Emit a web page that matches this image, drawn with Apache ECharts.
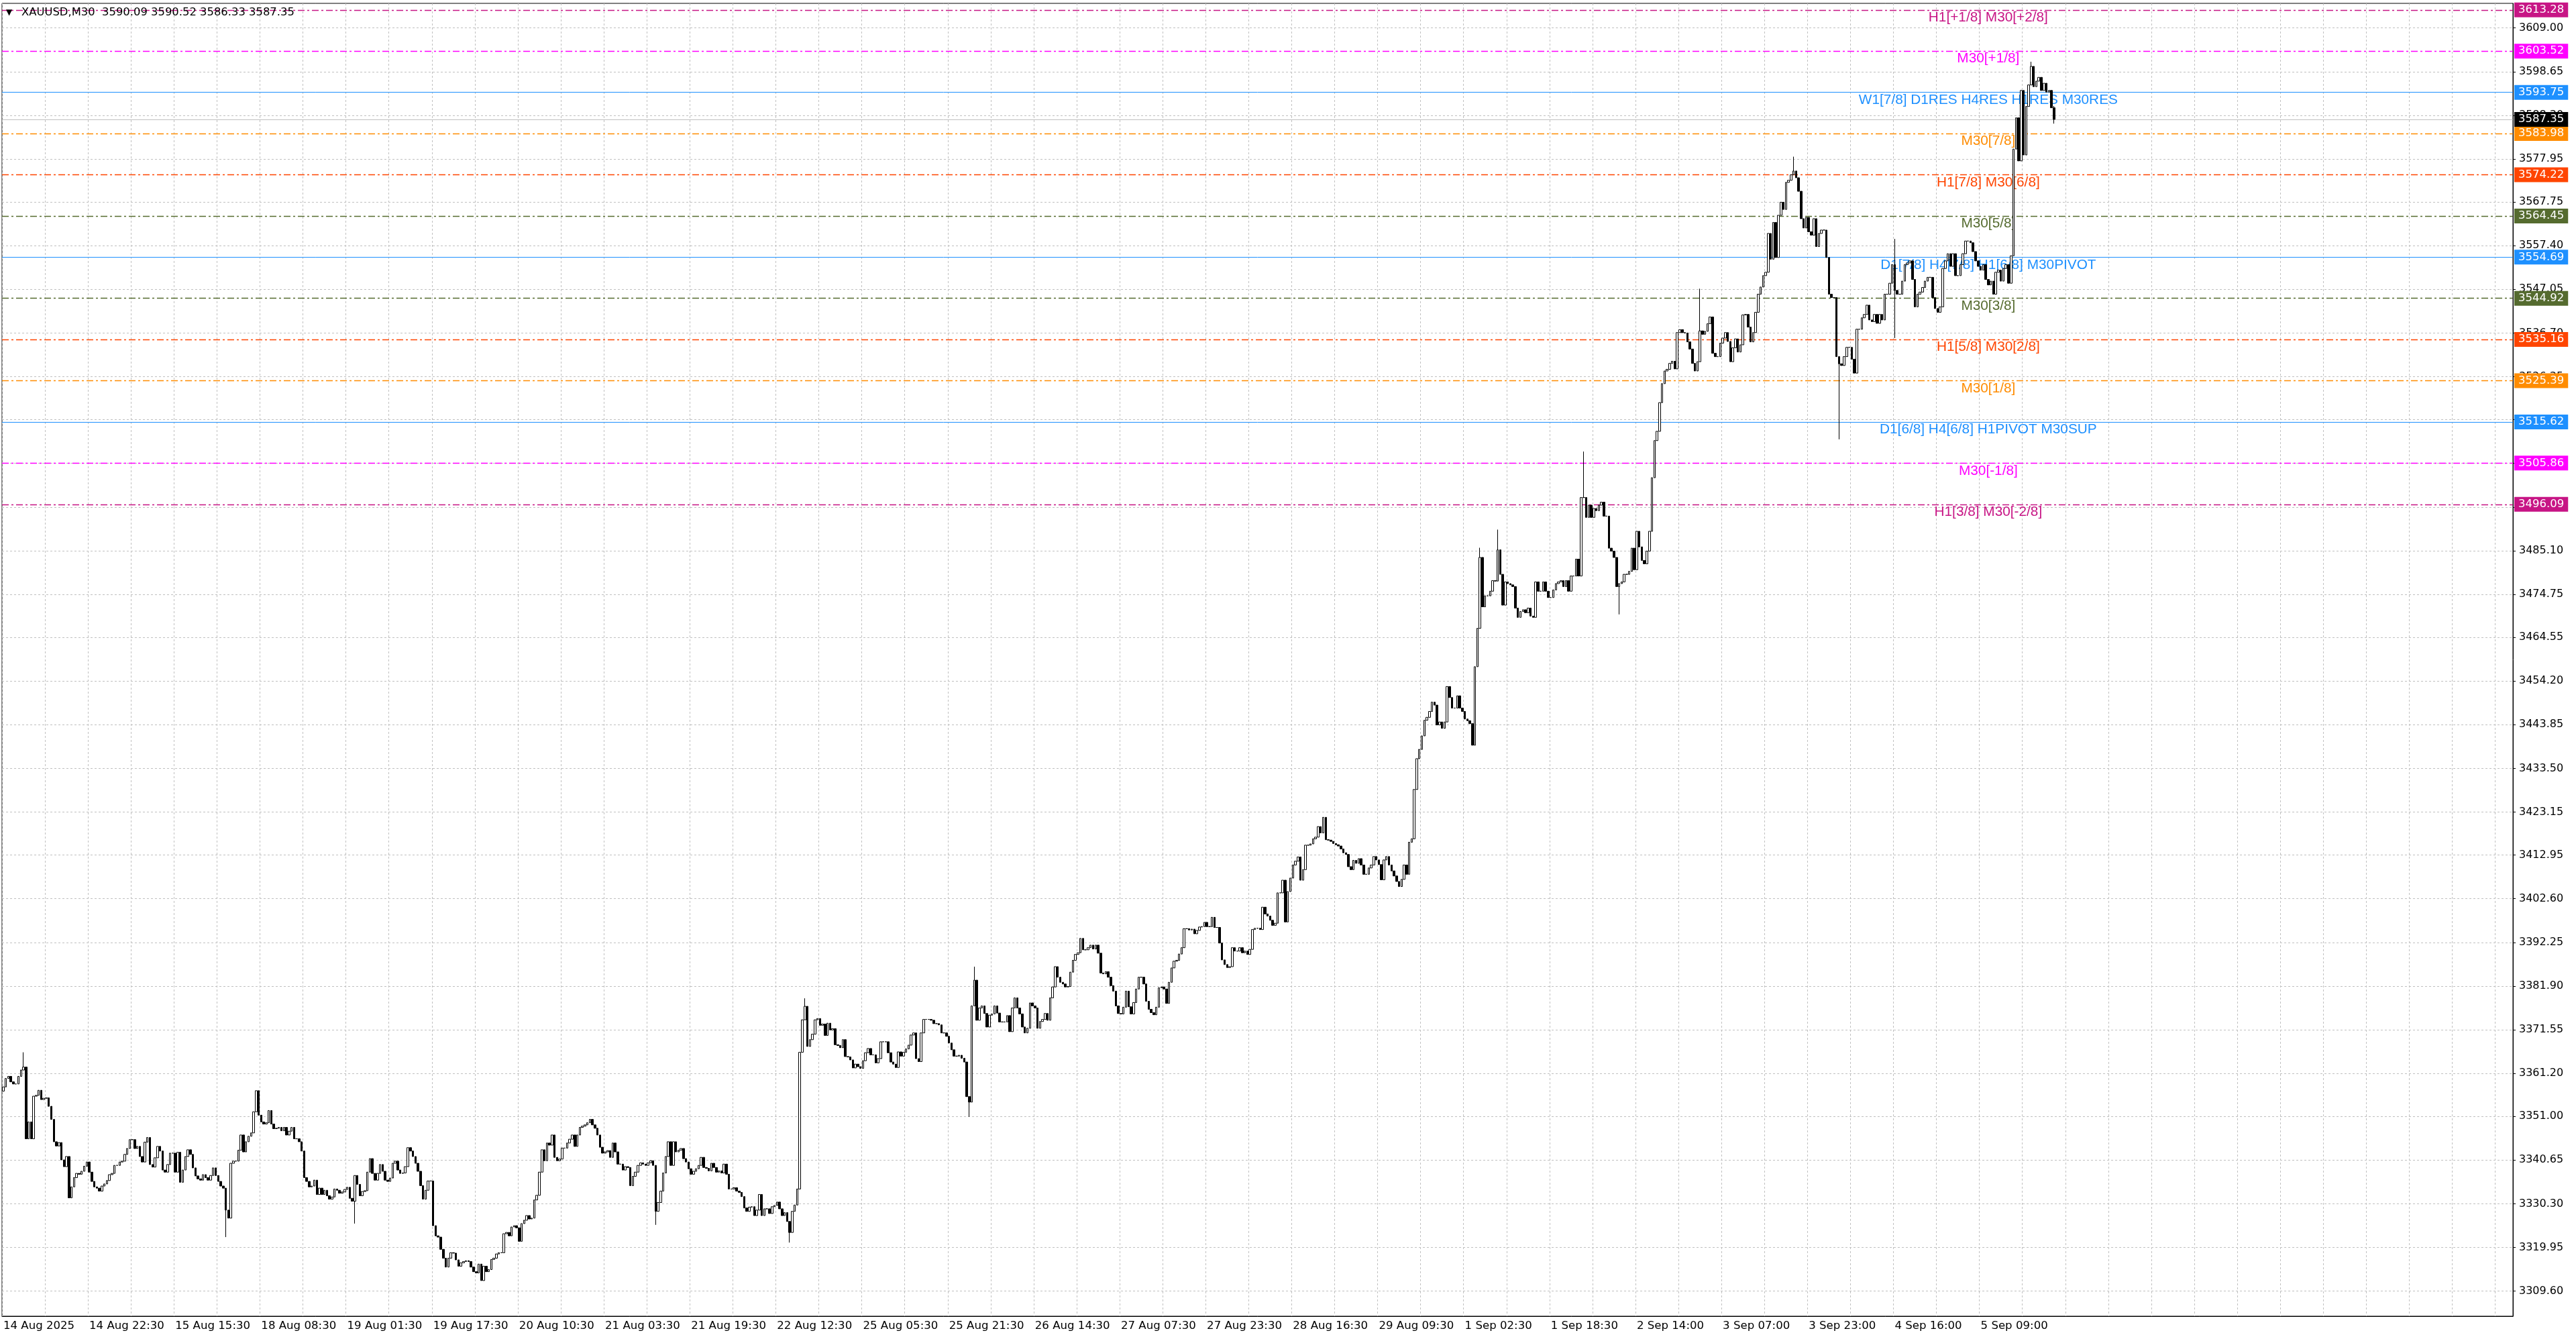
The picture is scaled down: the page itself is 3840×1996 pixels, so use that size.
<!DOCTYPE html>
<html>
<head>
<meta charset="utf-8">
<title>XAUUSD,M30</title>
<script src="https://cdn.jsdelivr.net/npm/echarts@6/dist/echarts.min.js"></script>
<style>
  html, body { margin: 0; padding: 0; background: #fff; }
  #chart { width: 3840px; height: 1996px; }
</style>
</head>
<body>
<div id="chart"></div>
<script>
// XAUUSD M30, 14 Aug - 5 Sep 2025. Closes,
// the open of every bar is the close of the bar before it.
const symbol = 'XAUUSD,M30'
const lastBarOHLC = [3590.09, 3590.52, 3586.33, 3587.35]
const firstOpen = 3357.0

// 14 Aug 05:30 .. 19 Aug 17:00
const closesAug14to19 = [
  3358.0, 3360.0, 3360.5, 3359.2, 3358.7, 3358.7, 3360.5, 3362.0, 3362.7, 3345.7, 3349.7, 3345.7, 3355.8, 3356.0, 3357.2, 3355.0, 3355.3,
  3355.4, 3353.4, 3350.3, 3345.0, 3344.0, 3344.8, 3340.7, 3339.1, 3341.5, 3331.7, 3334.3, 3336.5, 3337.5, 3337.3, 3338.0, 3339.2, 3340.2,
  3337.8, 3335.6, 3334.3, 3334.0, 3333.3, 3334.5, 3335.0, 3335.8, 3337.2, 3337.5, 3339.4, 3339.4, 3340.2, 3340.4, 3342.0, 3343.4, 3345.5,
  3345.5, 3343.4, 3343.9, 3341.5, 3340.2, 3344.9, 3346.0, 3339.6, 3339.0, 3341.2, 3343.9, 3342.8, 3338.3, 3337.8, 3339.6, 3342.3, 3342.3,
  3337.8, 3342.5, 3335.4, 3338.3, 3341.5, 3343.1, 3342.0, 3338.8, 3336.9, 3336.2, 3335.9, 3337.2, 3336.5, 3335.9, 3337.0, 3338.8, 3337.0,
  3335.6, 3334.5, 3334.0, 3328.8, 3326.9, 3339.9, 3340.4, 3340.4, 3343.0, 3346.6, 3342.6, 3345.0, 3346.3, 3347.1, 3352.1, 3357.1, 3351.3,
  3349.7, 3349.2, 3349.5, 3352.4, 3349.2, 3348.1, 3348.2, 3348.4, 3347.6, 3348.4, 3346.6, 3347.5, 3348.4, 3345.7, 3345.7, 3345.0, 3342.8,
  3336.5, 3335.6, 3334.3, 3334.5, 3335.9, 3332.5, 3334.0, 3332.5, 3333.5, 3332.2, 3331.4, 3331.9, 3333.8, 3333.5, 3332.8, 3333.1, 3333.7,
  3334.2, 3331.6, 3330.9, 3337.0, 3334.9, 3332.2, 3333.2, 3333.4, 3337.8, 3341.0, 3337.5, 3335.9, 3337.5, 3339.6, 3338.0, 3335.9, 3335.6,
  3336.4, 3339.9, 3340.4, 3338.3, 3337.5, 3337.6, 3339.1, 3343.6, 3342.8, 3341.5, 3339.9, 3338.0, 3334.6, 3331.4, 3333.5, 3335.7, 3335.7
]

// 19 Aug 17:30 .. 25 Aug 05:00
const closesAug19to25 = [
  3325.1, 3322.7, 3322.4, 3319.5, 3317.4, 3315.3, 3317.4, 3318.7, 3318.6, 3317.0, 3315.5, 3316.3, 3316.6, 3316.8, 3316.6, 3315.3, 3314.2,
  3313.9, 3316.0, 3312.1, 3315.5, 3314.2, 3314.7, 3317.1, 3317.4, 3318.4, 3318.7, 3318.7, 3323.2, 3323.5, 3322.7, 3324.8, 3325.1, 3324.6,
  3321.4, 3325.6, 3326.4, 3327.5, 3326.7, 3326.9, 3331.2, 3332.3, 3337.8, 3343.1, 3340.5, 3344.7, 3344.2, 3346.6, 3341.3, 3340.5, 3340.9,
  3343.5, 3343.5, 3344.7, 3345.6, 3346.6, 3343.9, 3346.6, 3348.4, 3348.7, 3349.0, 3349.5, 3350.3, 3349.0, 3348.2, 3346.6, 3343.7, 3342.3,
  3342.6, 3342.9, 3341.3, 3344.7, 3342.6, 3339.7, 3339.7, 3338.3, 3339.1, 3338.9, 3334.6, 3336.8, 3337.8, 3339.4, 3340.0, 3339.7, 3339.4, 3340.0,
  3340.5, 3339.4, 3328.5, 3330.6, 3333.3, 3337.6, 3341.5, 3345.0, 3339.4, 3345.0, 3342.6, 3343.0, 3343.4, 3341.0, 3340.2, 3338.6, 3337.3, 3338.0,
  3338.6, 3339.4, 3341.3, 3338.9, 3338.7, 3338.1, 3339.9, 3338.9, 3337.8, 3338.1, 3337.6, 3339.7, 3337.3, 3333.8, 3333.8, 3334.1, 3333.3, 3333.0,
  3332.0, 3329.3, 3328.5, 3329.5, 3329.6, 3327.5, 3328.8, 3332.5, 3327.5, 3329.1, 3329.1, 3328.0, 3329.6, 3329.9, 3330.7, 3329.1, 3327.5, 3328.2,
  3326.1, 3323.5, 3328.5, 3330.0, 3333.8, 3366.2, 3373.9, 3377.1, 3367.6, 3369.2, 3370.5, 3373.9, 3374.2, 3372.6, 3372.9, 3370.2, 3373.1, 3371.5,
  3371.8, 3368.0, 3367.8, 3367.3, 3369.2, 3365.2, 3365.1, 3364.4, 3362.5, 3363.4, 3362.8, 3362.4
]

// 25 Aug 05:30 .. 28 Aug 16:00
const closesAug25to28 = [
  3364.2, 3366.1, 3367.1, 3365.6, 3365.6, 3363.7, 3364.7, 3368.7, 3368.7, 3368.7, 3366.1, 3363.9, 3363.4, 3362.6, 3366.3, 3365.3, 3366.2, 3367.0,
  3367.9, 3370.3, 3370.8, 3364.7, 3364.0, 3370.8, 3374.0, 3374.0, 3374.0, 3373.8, 3373.0, 3373.0, 3372.7, 3370.8, 3370.8, 3370.0, 3368.4, 3366.8,
  3365.3, 3365.3, 3365.5, 3364.8, 3363.9, 3355.7, 3354.4, 3377.2, 3383.3, 3373.8, 3376.7, 3377.2, 3375.4, 3372.2, 3375.0, 3375.3, 3377.2, 3375.5,
  3373.4, 3373.4, 3373.4, 3374.9, 3371.1, 3376.7, 3379.1, 3376.7, 3375.3, 3372.2, 3370.8, 3371.9, 3377.9, 3377.2, 3376.7, 3371.9, 3373.5, 3374.0,
  3375.4, 3373.8, 3379.1, 3381.7, 3386.5, 3384.0, 3382.8, 3382.4, 3381.7, 3381.8, 3385.2, 3388.0, 3389.4, 3389.8, 3393.2, 3390.5, 3390.5, 3391.0,
  3391.6, 3390.7, 3391.6, 3389.7, 3385.0, 3384.8, 3385.3, 3384.0, 3382.0, 3380.7, 3377.2, 3375.4, 3375.3, 3376.9, 3380.7, 3377.0, 3375.3, 3378.0,
  3381.2, 3384.0, 3384.0, 3382.4, 3378.3, 3376.4, 3375.6, 3375.1, 3376.9, 3381.5, 3381.7, 3381.2, 3377.8, 3382.8, 3386.2, 3387.8, 3388.0, 3389.5,
  3391.0, 3395.5, 3395.5, 3395.2, 3395.4, 3394.3, 3395.1, 3395.9, 3396.0, 3397.0, 3396.0, 3396.0, 3398.2, 3395.8, 3395.8, 3392.1, 3388.1, 3387.0,
  3386.3, 3386.5, 3391.0, 3390.2, 3390.2, 3391.0, 3389.8, 3390.2, 3389.4, 3390.6, 3395.3, 3395.6, 3395.6, 3395.3, 3400.6, 3399.0, 3398.5, 3397.5,
  3396.3, 3396.8, 3404.0, 3404.0, 3407.0, 3397.1, 3404.3, 3407.5
]

// 28 Aug 16:30 .. 2 Sep 18:00
const closesAug28toSep2 = [
  3410.6, 3411.5, 3412.5, 3407.0, 3409.5, 3415.3, 3415.3, 3415.6, 3416.8, 3417.2, 3419.7, 3418.2, 3421.9, 3416.6, 3416.5, 3416.2, 3415.7,
  3415.4, 3415.1, 3414.4, 3413.5, 3413.1, 3410.2, 3409.5, 3411.7, 3411.0, 3412.1, 3410.6, 3408.4, 3408.4, 3409.9, 3410.6, 3412.6, 3411.8,
  3410.7, 3407.1, 3411.8, 3412.6, 3410.6, 3409.2, 3408.0, 3406.7, 3405.5, 3407.2, 3410.6, 3408.4, 3416.0, 3416.8, 3428.5, 3435.8, 3438.0,
  3441.2, 3444.9, 3445.6, 3447.0, 3449.2, 3448.5, 3443.8, 3444.5, 3443.0, 3444.5, 3452.9, 3450.3, 3447.8, 3447.8, 3450.7, 3447.8, 3447.0,
  3445.2, 3444.8, 3444.1, 3439.0, 3457.6, 3466.7, 3483.5, 3471.8, 3474.4, 3474.4, 3475.5, 3478.0, 3477.9, 3485.3, 3479.5, 3472.2, 3477.7,
  3477.3, 3477.0, 3476.6, 3471.5, 3469.3, 3470.7, 3471.1, 3470.4, 3471.5, 3469.6, 3469.3, 3477.7, 3475.5, 3475.5, 3477.7, 3475.5, 3474.0,
  3474.0, 3475.8, 3477.3, 3477.7, 3478.0, 3476.6, 3478.0, 3475.5, 3479.1, 3479.1, 3483.1, 3479.1, 3497.7, 3497.7, 3493.0, 3495.9, 3493.0,
  3495.1, 3494.6, 3495.9, 3496.6, 3493.3, 3493.3, 3485.7, 3485.0, 3483.5, 3476.6, 3477.3, 3477.7, 3479.5, 3479.5, 3480.2, 3485.7, 3480.6,
  3489.7, 3486.0, 3482.8, 3482.0, 3485.0, 3489.7, 3502.4, 3511.2, 3513.4
]

// 2 Sep 18:30 .. 5 Sep 23:30
const closesSep2to5 = [
  3520.2, 3524.7, 3527.7, 3528.1, 3529.5, 3530.0, 3528.2, 3536.8, 3537.5, 3536.8, 3536.7, 3534.6, 3532.9, 3529.5, 3527.7, 3529.9, 3537.2,
  3536.4, 3537.1, 3538.9, 3540.5, 3531.9, 3531.1, 3531.1, 3534.3, 3535.5, 3536.8, 3534.7, 3529.9, 3533.2, 3535.3, 3532.2, 3533.9, 3541.0,
  3541.1, 3538.1, 3534.6, 3536.8, 3541.6, 3545.9, 3547.6, 3550.3, 3551.1, 3560.3,
  3554.2, 3562.9, 3554.6, 3564.6, 3567.7, 3566.0, 3572.4, 3572.9, 3574.2, 3575.1,
  3573.5, 3570.3, 3563.8, 3561.6, 3564.1, 3560.7, 3559.9, 3563.8, 3557.2, 3560.3,
  3561.1, 3561.1, 3554.6, 3545.9, 3545.1, 3545.1, 3531.1, 3529.4, 3529.0, 3531.1,
  3533.3, 3533.3, 3530.5, 3527.2, 3537.6, 3537.6, 3540.3, 3541.1, 3543.3, 3539.8,
  3539.4, 3541.1, 3539.0, 3541.1, 3539.8, 3545.9, 3545.9, 3548.5, 3552.9, 3546.8,
  3545.9, 3545.9, 3549.0, 3552.9, 3553.3, 3553.8, 3549.4, 3542.9, 3545.9, 3546.4,
  3547.5, 3549.0, 3549.9, 3549.9, 3545.1, 3542.5, 3541.6, 3542.9, 3552.0, 3553.8,
  3555.5, 3552.5, 3555.5, 3550.3, 3550.3, 3552.9, 3555.5, 3558.5, 3558.5, 3558.1,
  3556.0, 3553.8, 3552.5, 3551.6, 3552.9, 3549.4, 3548.1, 3549.0, 3545.9, 3551.1,
  3551.6, 3549.0, 3552.0, 3552.9, 3548.5, 3555.0, 3580.3, 3587.7, 3577.5, 3594.2,
  3578.9, 3590.4, 3595.5, 3599.9, 3595.1, 3596.4, 3597.3, 3594.2, 3595.9, 3593.8,
  3594.2, 3590.09, 3587.35
]

// bars with a long visible wick: [bar index, low, high]
const wicks = [
  [8, null, 3366.2], [88, 3322.4, null], [139, 3325.6, null], [258, 3325.3, null],
  [311, 3321.1, null], [317, null, 3379.0], [382, 3350.9, null], [384, null, 3386.5],
  [584, null, 3485.8], [591, null, 3490.1], [625, null, 3508.6], [639, 3470.0, null],
  [671, null, 3547.2], [708, null, 3578.5], [726, 3511.5, null], [748, 3535.5, 3559.0],
  [802, null, 3601.0], [811, 3586.33, 3590.52]
]

const xLabels = [
  '14 Aug 2025', '14 Aug 22:30', '15 Aug 15:30', '18 Aug 08:30', '19 Aug 01:30', '19 Aug 17:30',
  '20 Aug 10:30', '21 Aug 03:30', '21 Aug 19:30', '22 Aug 12:30', '25 Aug 05:30', '25 Aug 21:30',
  '26 Aug 14:30', '27 Aug 07:30', '27 Aug 23:30', '28 Aug 16:30', '29 Aug 09:30', '1 Sep 02:30',
  '1 Sep 18:30', '2 Sep 14:00', '3 Sep 07:00', '3 Sep 23:00', '4 Sep 16:00', '5 Sep 09:00'
]

const yTicks = [
  3609.00, 3598.65, 3588.30, 3577.95, 3567.75, 3557.40, 3547.05, 3536.70, 3526.35, 3516.15,
  3505.80, 3495.45, 3485.10, 3474.75, 3464.55, 3454.20, 3443.85, 3433.50, 3423.15, 3412.95,
  3402.60, 3392.25, 3381.90, 3371.55, 3361.20, 3351.00, 3340.65, 3330.30, 3319.95, 3309.60
]

// Murrey math levels
const levelValues = [3613.28, 3603.52, 3593.75, 3583.98, 3574.22, 3564.45, 3554.69, 3544.92, 3535.16, 3525.39, 3515.62, 3505.86, 3496.09]
const levelNames = [
  'H1[+1/8] M30[+2/8]', 'M30[+1/8]', 'W1[7/8] D1RES H4RES H1RES M30RES', 'M30[7/8]',
  'H1[7/8] M30[6/8]', 'M30[5/8]', 'D1[7/8] H4[7/8] H1[6/8] M30PIVOT', 'M30[3/8]',
  'H1[5/8] M30[2/8]', 'M30[1/8]', 'D1[6/8] H4[6/8] H1PIVOT M30SUP', 'M30[-1/8]', 'H1[3/8] M30[-2/8]'
]
const bidPrice = lastBarOHLC[3]

// ---- styling ----
const levelColors = ['#c71585', '#ff00ff', '#1e90ff', '#ff8c00', '#ff4500', '#556b2f', '#1e90ff',
  '#556b2f', '#ff4500', '#ff8c00', '#1e90ff', '#ff00ff', '#c71585']
const dashDot = [10, 4, 3, 4]
const gridDash = [3, 3]
const gridColor = '#c0c0c0'
const slotCount = 993      // bar slots across the plot, incl. the empty shift on the right
const labelEvery = 34
const gridEvery = 17
const nameSpan = [700, 870] // bar range whose middle carries the level names

const closes = [].concat(closesAug14to19, closesAug19to25, closesAug25to28, closesAug28toSep2, closesSep2to5)
const wickMap = {}
wicks.forEach(w => { wickMap[w[0]] = w })

let prev = firstOpen
const candles = closes.map((c, k) => {
  const o = prev
  prev = c
  let lo = Math.min(o, c), hi = Math.max(o, c)
  const w = wickMap[k]
  if (w) {
    if (w[1] != null) lo = Math.min(lo, w[1])
    if (w[2] != null) hi = Math.max(hi, w[2])
  }
  return [o, c, lo, hi]
})

const slots = Array.from({ length: slotCount }, (_, i) => String(i))
const header = symbol + '  ' + lastBarOHLC.map(v => v.toFixed(2)).join(' ')

const priceBox = {
  show: true, position: 'end', distance: 2, color: '#fff',
  fontFamily: 'DejaVu Sans', fontSize: 16.5, padding: [3, 6, 2, 6]
}

const levelLines = []
const levelNameLines = []
levelValues.forEach((v, i) => {
  const color = levelColors[i]
  const solid = color === '#1e90ff'
  levelLines.push({
    yAxis: v,
    lineStyle: { color: color, width: solid ? 1 : 1.3, type: solid ? 'solid' : dashDot },
    label: Object.assign({}, priceBox, { formatter: v.toFixed(2), backgroundColor: color })
  })
  levelNameLines.push([
    {
      coord: [String(nameSpan[0]), v],
      label: {
        show: true, position: 'insideMiddleBottom', distance: 1, formatter: levelNames[i],
        color: color, fontFamily: 'Liberation Sans', fontSize: 20.8
      }
    },
    { coord: [String(nameSpan[1]), v] }
  ])
})
levelLines.push({
  yAxis: bidPrice,
  lineStyle: { color: gridColor, width: 1, type: 'solid' },
  label: Object.assign({}, priceBox, { formatter: bidPrice.toFixed(2), backgroundColor: '#000' })
})

const showLabel = i => i % labelEvery === 0 && i / labelEvery < xLabels.length

const chart = echarts.init(document.getElementById('chart'))
chart.setOption({
  animation: false,
  backgroundColor: '#fff',
  textStyle: { fontFamily: 'DejaVu Sans' },
  title: [
    { text: '▼', left: 9, top: 13, padding: 0, textStyle: { fontSize: 12, color: '#000', fontWeight: 'normal' } },
    { text: header, left: 32, top: 11, padding: 0, textStyle: { fontSize: 16.4, color: '#000', fontWeight: 'normal', fontFamily: 'DejaVu Sans' } }
  ],
  grid: { left: 3, right: 94, top: 5, bottom: 34, show: true, borderColor: '#000', borderWidth: 1 },
  xAxis: {
    type: 'category',
    data: slots,
    boundaryGap: true,
    axisLine: { lineStyle: { color: '#000', width: 1 } },
    axisTick: { alignWithLabel: true, interval: showLabel, length: 4, lineStyle: { color: '#000' } },
    axisLabel: {
      interval: showLabel,
      formatter: (v, i) => xLabels[i / labelEvery],
      align: 'left', margin: 6, fontSize: 16.6, color: '#000'
    },
    splitLine: { show: true, interval: i => i % gridEvery === 0, lineStyle: { color: gridColor, type: gridDash, width: 1 } }
  },
  yAxis: {
    type: 'value',
    position: 'right',
    min: 3303.65,
    max: 3614.84,
    axisLine: { show: true, lineStyle: { color: '#000' } },
    axisTick: { show: true, customValues: yTicks, length: 4, lineStyle: { color: '#000' } },
    axisLabel: { customValues: yTicks, formatter: v => v.toFixed(2), margin: 9, fontSize: 16, color: '#000' },
    splitLine: { show: false }
  },
  series: [
    {
      // horizontal price grid
      type: 'line',
      data: [],
      silent: true,
      markLine: {
        silent: true, z: 1, animation: false, symbol: ['none', 'none'],
        label: { show: false },
        lineStyle: { color: gridColor, type: gridDash, width: 1 },
        data: yTicks.map(t => ({ yAxis: t }))
      }
    },
    {
      // level names, drawn on an invisible segment
      type: 'line',
      data: [],
      silent: true,
      markLine: {
        silent: true, z: 2, animation: false, symbol: ['none', 'none'],
        lineStyle: { color: 'rgba(0,0,0,0)', width: 0 },
        data: levelNameLines
      }
    },
    {
      type: 'candlestick',
      name: symbol,
      data: candles,
      barWidth: 3,
      large: false,
      clip: false,
      z: 3,
      itemStyle: {
        color: '#fff', color0: '#000',
        borderColor: '#000', borderColor0: '#000', borderColorDoji: '#000',
        borderWidth: 1
      },
      markLine: {
        silent: true, z: 2, animation: false, symbol: ['none', 'none'],
        data: levelLines
      }
    }
  ]
})
</script>
</body>
</html>
